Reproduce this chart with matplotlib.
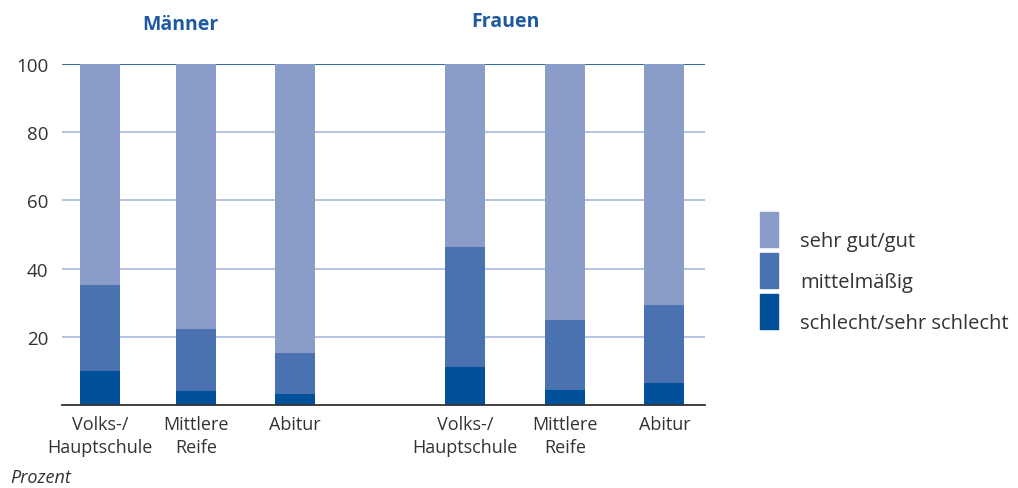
import matplotlib
matplotlib.use("Agg")
import matplotlib.pyplot as plt
from matplotlib.patches import Rectangle

categories = ["Volks-/\nHauptschule", "Mittlere\nReife", "Abitur"]
groups = ["Männer", "Frauen"]
series = ["sehr gut/gut", "mittelmäßig", "schlecht/sehr schlecht"]
# values per group: [Volks, Mittlere, Abitur]
schlecht_m = [10.1, 4.2, 3.2]
mittel_m = [25.2, 18.1, 12.0]
gut_m = [64.7, 77.7, 84.8]
schlecht_f = [11.2, 4.4, 6.4]
mittel_f = [35.1, 20.6, 22.9]
gut_f = [53.7, 75.0, 70.7]
yticks = [20, 40, 60, 80, 100]

c_gut = "#8a9dc9"
c_mit = "#4a72b0"
c_sch = "#00509a"
c_text = "#333333"
c_title = "#1f5aa0"

plt.rcParams['font.family'] = ['Open Sans', 'DejaVu Sans']

fig = plt.figure(figsize=(10.18, 4.89), dpi=100)
W, H = 1018, 489
ax = fig.add_axes([62 / W, 1 - 406 / H, (705 - 62) / W, (406 - 65) / H])

unit = 98.5
pos_m = [0, 0.975, 1.98]
pos_f = [3.71, 4.72, 5.73]
bw = 40 / unit

for pos, sch, mit, gut in [(pos_m, schlecht_m, mittel_m, gut_m), (pos_f, schlecht_f, mittel_f, gut_f)]:
    bot2 = [a + b for a, b in zip(sch, mit)]
    ax.bar(pos, sch, bw, color=c_sch, zorder=3)
    ax.bar(pos, mit, bw, bottom=sch, color=c_mit, zorder=3)
    ax.bar(pos, gut, bw, bottom=bot2, color=c_gut, zorder=3)

ax.set_xlim(-38 / unit, 605 / unit)
ax.set_ylim(0, 100)
for y in yticks:
    col = "#1f5aa6" if y == 100 else "#9fb1dc"
    ax.axhline(y, color=col, lw=1.3 if y == 100 else 1.1, zorder=1)
ax.set_yticks(yticks)
ax.set_yticklabels([str(v) for v in yticks], fontsize=13.5, color=c_text)
ax.tick_params(axis='y', length=0, pad=10)
ax.set_xticks(pos_m + pos_f)
ax.set_xticklabels(categories * 2, fontsize=13, color=c_text, linespacing=1.35)
ax.tick_params(axis='x', length=0, pad=7)
for s in ["top", "right", "left"]:
    ax.spines[s].set_visible(False)
ax.spines["bottom"].set_color("#333333")
ax.spines["bottom"].set_linewidth(1.3)
ax.spines["bottom"].set_zorder(4)

fig.text(180 / W, 1 - 25 / H, groups[0], fontsize=14, fontweight='bold', color=c_title, ha='center', va='center')
fig.text(505 / W, 1 - 22 / H, groups[1], fontsize=14, fontweight='bold', color=c_title, ha='center', va='center')
fig.text(10 / W, 1 - 478 / H, "Prozent", fontsize=13, style='italic', color=c_text, ha='left', va='center')

# legend
leg = [(series[0], c_gut, 213), (series[1], c_mit, 254), (series[2], c_sch, 295)]
for lab, col, ytop in leg:
    fig.patches.append(Rectangle((760 / W, 1 - (ytop + 35) / H), 18 / W, 35 / H,
                                 transform=fig.transFigure, color=col))
    fig.text(800 / W, 1 - (ytop + 29) / H, lab, fontsize=14.5, color=c_text, ha='left', va='center')

fig.savefig("out.png", dpi=100)
